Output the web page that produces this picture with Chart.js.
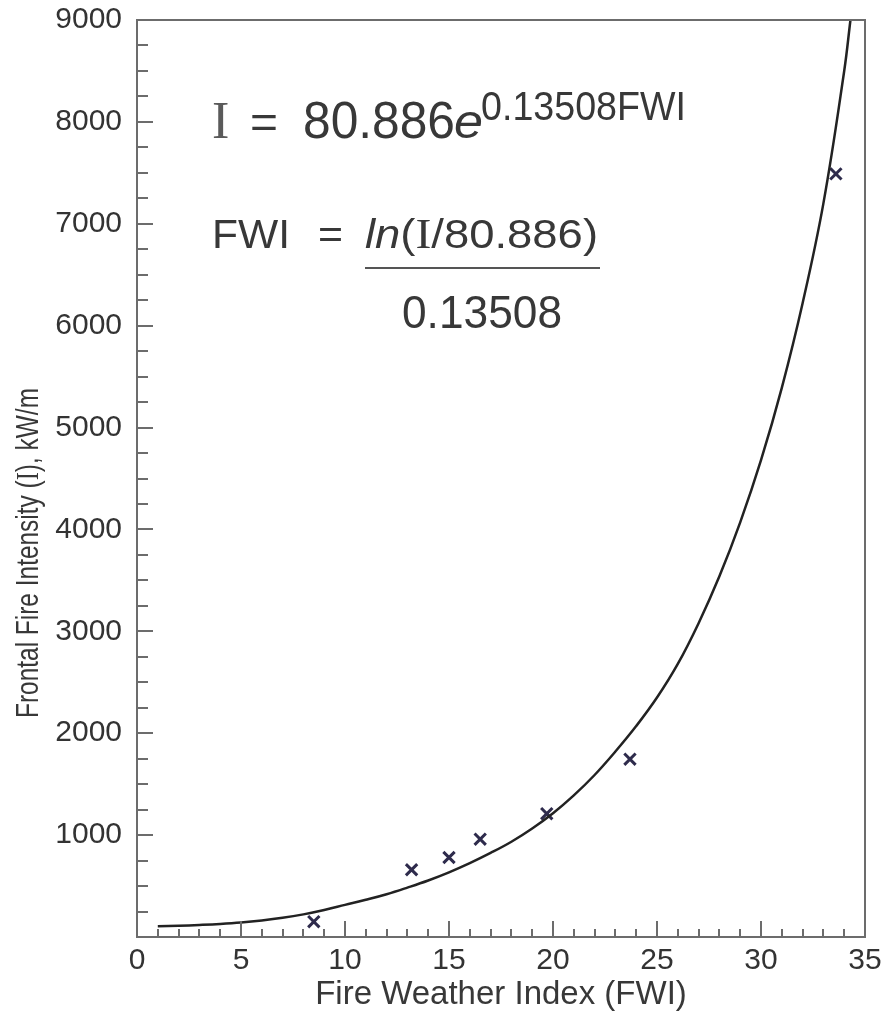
<!DOCTYPE html>
<html>
<head>
<meta charset="utf-8">
<script src="https://cdn.jsdelivr.net/npm/chart.js@4.4.0/dist/chart.umd.min.js"></script>
<style>
  html, body { margin: 0; padding: 0; background: #fff; }
  #wrap { width: 884px; height: 1021px; }
</style>
</head>
<body>
<div id="wrap"><canvas id="fwiChart" width="884" height="1021"></canvas></div>
<script>
// fitted curve I = 80.886 e^(0.13508 FWI)
const curveFWI = [1, 2, 3, 4, 5, 6, 7, 8, 9, 10, 11, 12, 13, 14, 15, 16, 17, 18, 19, 20,
                  21, 22, 23, 24, 25, 26, 27, 28, 29, 30, 31, 32, 33, 34, 34.3];
const curveI = [105, 110, 118, 128, 142, 162, 188, 222, 265, 315, 365, 420, 485, 555, 635, 725, 825, 935, 1065, 1215,
                1390, 1590, 1820, 2070, 2350, 2680, 3080, 3540, 4070, 4680, 5390, 6220, 7200, 8500, 9000];

// observed fires (x markers)
const obsFWI = [8.5, 13.2, 15.0, 16.5, 19.7, 23.7, 33.6];
const obsI = [150, 660, 780, 960, 1210, 1745, 7490];

// tick labels
const xTickLabels = [0, 5, 10, 15, 20, 25, 30, 35];
const yTickLabels = [1000, 2000, 3000, 4000, 5000, 6000, 7000, 8000, 9000];

const textColor = "#383838";
const axisColor = "#6c6c6c";
const SANS = "'Liberation Sans', Arial, sans-serif";
const SERIF = "'Liberation Serif', 'Times New Roman', serif";

// draws a row of text runs, squeezed/stretched to a given width
function drawRuns(ctx, runs, x, y, width) {
  let total = 0;
  runs.forEach(r => { ctx.font = r[1]; total += ctx.measureText(r[0]).width; });
  ctx.save();
  ctx.translate(x, y);
  ctx.scale(width ? width / total : 1, 1);
  ctx.textBaseline = "alphabetic";
  ctx.textAlign = "left";
  let cx = 0;
  runs.forEach(r => {
    ctx.font = r[1];
    ctx.fillStyle = r[2] || textColor;
    ctx.fillText(r[0], cx, 0);
    cx += ctx.measureText(r[0]).width;
  });
  ctx.restore();
}

// frame, inward ticks, equations, y title
const framePlugin = {
  id: "frame",
  afterDraw(chart) {
    const ctx = chart.ctx;
    const a = chart.chartArea;
    const xs = chart.scales.x, ys = chart.scales.y;

    ctx.save();
    ctx.strokeStyle = axisColor;
    ctx.lineWidth = 2;
    ctx.strokeRect(a.left, a.top, a.right - a.left, a.bottom - a.top);

    ctx.beginPath();
    for (let v = 1; v < 35; v++) {
      const px = Math.round(xs.getPixelForValue(v));
      const len = v % 5 === 0 ? 16 : 8;
      ctx.moveTo(px, a.bottom);
      ctx.lineTo(px, a.bottom - len);
    }
    for (let v = 250; v < 9000; v += 250) {
      const py = Math.round(ys.getPixelForValue(v));
      const len = v % 1000 === 0 ? 16 : 11;
      ctx.moveTo(a.left, py);
      ctx.lineTo(a.left + len, py);
    }
    ctx.stroke();

    // equations
    drawRuns(ctx, [["I", "52px " + SERIF, "#5a5a5a"]], 212, 138);
    drawRuns(ctx, [["=", "46px " + SANS]], 250, 138, 28);
    drawRuns(ctx, [["80.886", "51px " + SANS]], 303, 138, 152);
    drawRuns(ctx, [["e", "italic 48px " + SANS]], 454, 138, 29);
    drawRuns(ctx, [["0.13508FWI", "40px " + SANS]], 481, 120, 205);

    drawRuns(ctx, [["FWI", "40px " + SANS]], 212, 248, 78);
    drawRuns(ctx, [["=", "40px " + SANS]], 318, 248, 25);
    drawRuns(ctx, [["ln", "italic 40px " + SANS], ["(", "40px " + SANS],
                   ["I", "42px " + SERIF], ["/80.886)", "40px " + SANS]], 365, 248, 233);
    ctx.strokeStyle = "#555";
    ctx.lineWidth = 2;
    ctx.beginPath();
    ctx.moveTo(365, 268);
    ctx.lineTo(600, 268);
    ctx.stroke();
    drawRuns(ctx, [["0.13508", "46px " + SANS]], 402, 328, 160);

    // y axis title, rotated
    ctx.translate(38, 718);
    ctx.rotate(-Math.PI / 2);
    drawRuns(ctx, [["Frontal Fire Intensity (", "31px " + SANS], ["I", "31px " + SERIF],
                   ["), kW/m", "31px " + SANS]], 0, 0, 330);
    ctx.restore();
  }
};

new Chart(document.getElementById("fwiChart"), {
  type: "scatter",
  data: {
    datasets: [
      {
        label: "Fit",
        data: curveFWI.map((x, i) => ({ x: x, y: curveI[i] })),
        showLine: true,
        pointRadius: 0,
        borderColor: "#222222",
        borderWidth: 2.5,
        tension: 0.4
      },
      {
        label: "Observed",
        data: obsFWI.map((x, i) => ({ x: x, y: obsI[i] })),
        pointStyle: "crossRot",
        pointRadius: 8,
        borderWidth: 3,
        borderColor: "#2e2b4c",
        backgroundColor: "#2e2b4c"
      }
    ]
  },
  options: {
    responsive: false,
    animation: false,
    layout: { padding: { top: 20, right: 19, bottom: 0, left: 0 } },
    plugins: {
      legend: { display: false },
      tooltip: { enabled: false }
    },
    scales: {
      x: {
        type: "linear",
        min: 0,
        max: 35,
        grid: { display: false, drawTicks: false },
        border: { display: false },
        ticks: {
          stepSize: 5,
          padding: 6,
          color: "#333",
          font: { family: SANS, size: 30 },
          callback: v => xTickLabels.includes(v) ? String(v) : ""
        },
        title: {
          display: true,
          text: "Fire Weather Index (FWI)",
          color: textColor,
          font: { family: SANS, size: 33 },
          padding: { top: 0, bottom: 6 }
        },
        afterFit: s => { s.height = 84; s.paddingLeft = 0; s.paddingRight = 0; }
      },
      y: {
        min: 0,
        max: 9000,
        grid: { display: false, drawTicks: false },
        border: { display: false },
        ticks: {
          stepSize: 1000,
          padding: 15,
          color: "#333",
          font: { family: SANS, size: 30 },
          callback: v => yTickLabels.includes(v) ? String(v) : ""
        },
        afterFit: s => { s.width = 137; s.paddingTop = 0; s.paddingBottom = 0; }
      }
    }
  },
  plugins: [framePlugin]
});
</script>
</body>
</html>
